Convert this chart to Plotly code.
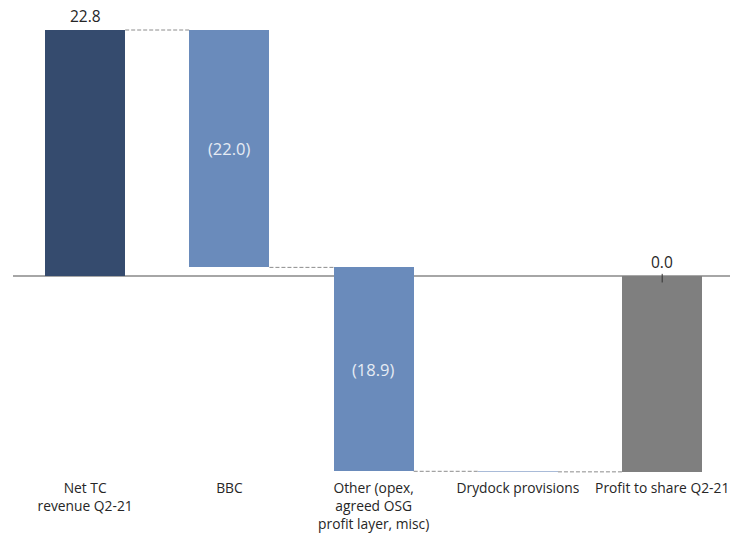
import plotly.graph_objects as go

categories = ["Net TC<br>revenue Q2-21", "BBC", "Other (opex,<br>agreed OSG<br>profit layer, misc)",
              "Drydock provisions", "Profit to share Q2-21"]
deltas = [22.8, -22.0, -18.9, -0.05]          # step changes
label_texts = ["22.8", "(22.0)", "(18.9)", "", "0.0"]
colors = ["#354b6e", "#6a8bbb", "#6a8bbb", "#a9bbd8", "#7f7f7f"]

# build floating bars
bases, heights, levels = [], [], []
level = 0.0
for i, d in enumerate(deltas):
    bases.append(0.0 if i == 0 else level)
    heights.append(d)
    level += d
    levels.append(level)
total = level
bases.append(0.0)
heights.append(total)
levels.append(total)

x_idx = list(range(len(categories)))
W = 0.555

fig = go.Figure()
fig.add_trace(go.Bar(x=x_idx, y=heights, base=bases, width=W,
                     marker=dict(color=colors, line=dict(width=0)),
                     hoverinfo="skip", showlegend=False))

# connectors
for i in range(len(categories) - 1):
    lv = levels[i]
    fig.add_trace(go.Scatter(x=[i + W / 2, i + 1 - W / 2], y=[lv, lv], mode="lines",
                             line=dict(color="#8c8c8c", width=1, dash="4px,2px"),
                             hoverinfo="skip", showlegend=False))

# value labels
for i, t in enumerate(label_texts):
    if not t:
        continue
    top = max(bases[i], bases[i] + heights[i])
    bot = min(bases[i], bases[i] + heights[i])
    if i in (1, 2):
        fig.add_annotation(x=i, y=(top + bot) / 2, text=t, showarrow=False,
                           font=dict(size=16.5, color="#e6ebf4"))
    else:
        fig.add_annotation(x=i, y=top, text=t, showarrow=False, yanchor="bottom", yshift=1,
                           font=dict(size=15.5, color="#262626"))

# small tick at final bar
fig.add_shape(type="line", x0=4, x1=4, y0=0.2, y1=-0.6, line=dict(color="#333333", width=1))

fig.update_layout(
    width=730, height=537,
    margin=dict(l=13, r=0, t=0, b=59),
    plot_bgcolor="white", paper_bgcolor="white",
    font=dict(family="Open Sans", size=14, color="#262626"),
    bargap=0,
)
fig.update_xaxes(range=[-0.5, 4.47], tickvals=x_idx, ticktext=categories,
                 showgrid=False, showline=False, zeroline=False, ticks="",
                 tickfont=dict(size=13.8, color="#262626"))
fig.update_yaxes(range=[-18.72, 25.58], showgrid=False, showticklabels=False,
                 zeroline=True, zerolinecolor="#a6a6a6", zerolinewidth=1.5, showline=False)

fig.write_html("out.html")
